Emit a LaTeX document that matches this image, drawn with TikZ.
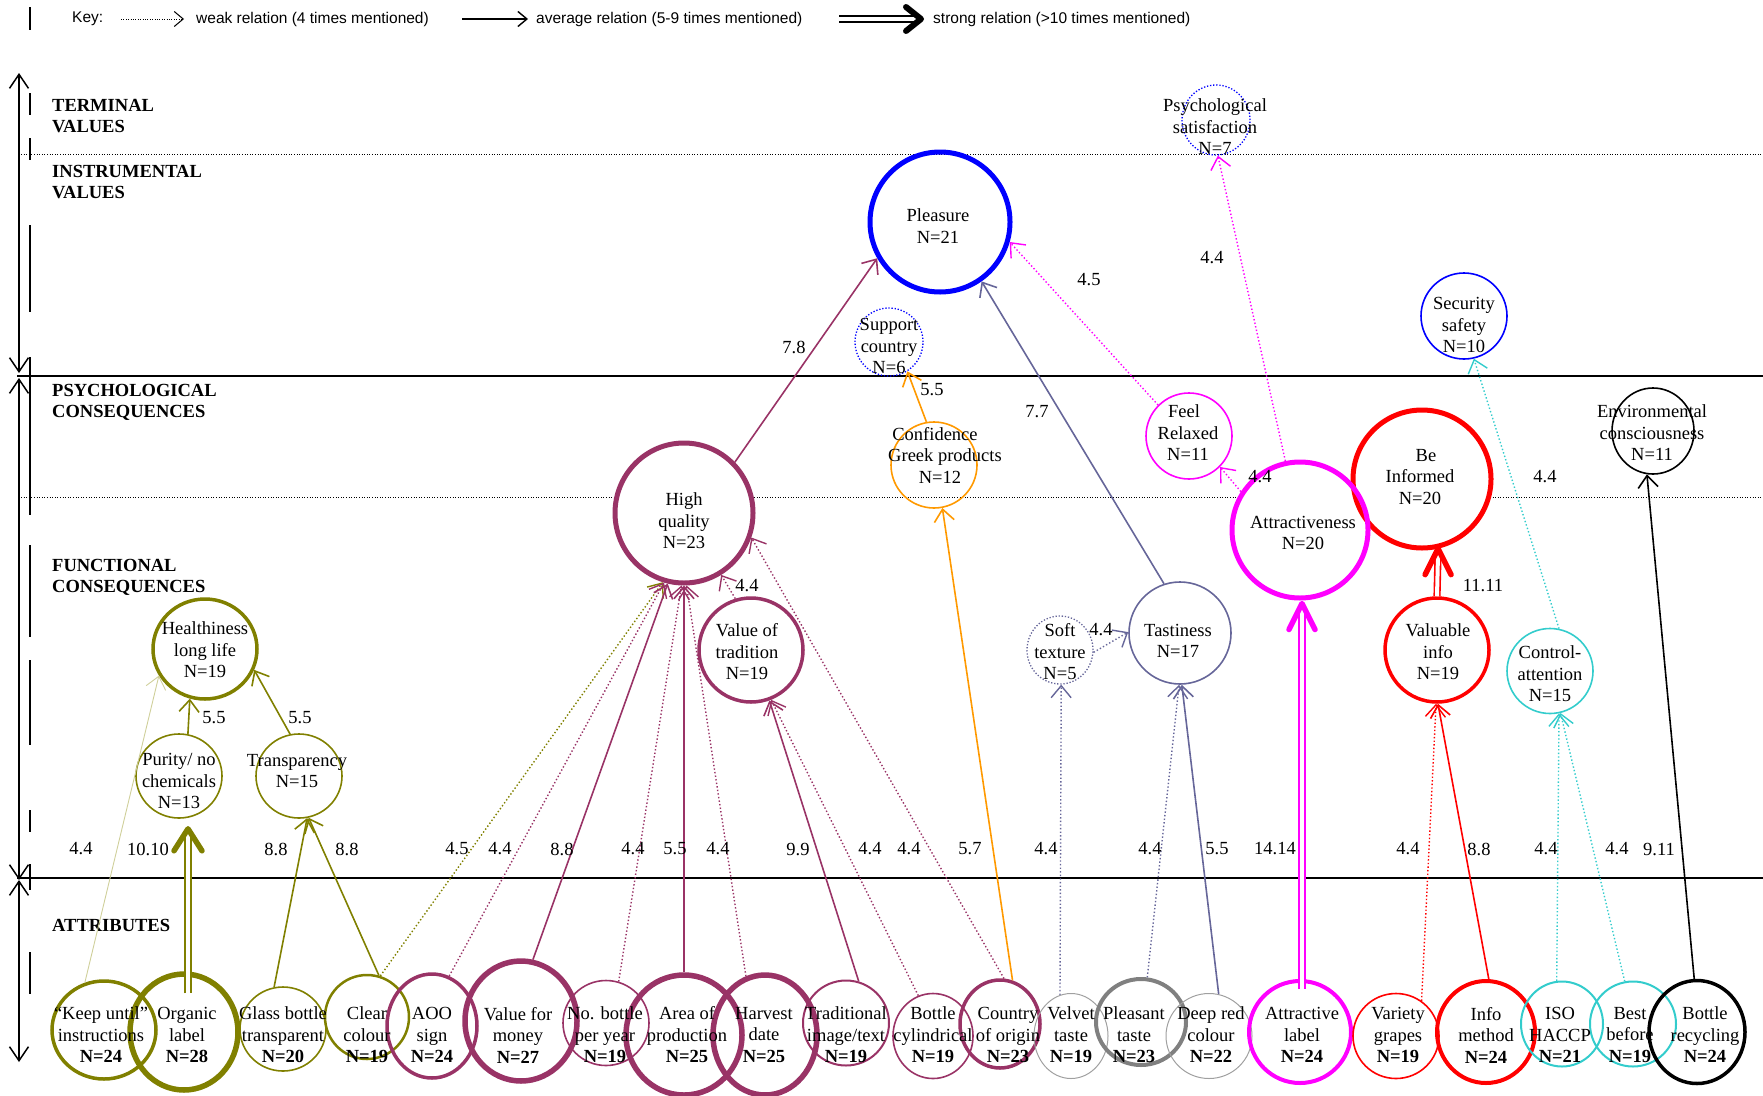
\documentclass[tikz,border=0pt]{standalone}
\usepackage{fontspec}
\setmainfont{Liberation Serif}
\newfontfamily\keyfont{Liberation Sans}
\usetikzlibrary{shapes.geometric,arrows.meta,calc}
\definecolor{olv}{HTML}{808000}
\definecolor{lolv}{HTML}{CFCF9A}
\definecolor{mar}{HTML}{993366}
\definecolor{mag}{HTML}{FF00FF}
\definecolor{blu}{HTML}{0000FF}
\definecolor{rd}{HTML}{FF0000}
\definecolor{orn}{HTML}{FF9900}
\definecolor{sla}{HTML}{666699}
\definecolor{cya}{HTML}{33CCCC}
\definecolor{gry}{HTML}{808080}
\definecolor{lgry}{HTML}{A0A0A0}
\begin{document}
\begin{tikzpicture}[x=1pt,y=-1pt,
  bub/.style 2 args={ellipse, inner sep=0pt, minimum width=#1pt, minimum height=#2pt},
  dotb/.style={dash pattern=on 1.3pt off 1.8pt},
  txt/.style={align=center, inner sep=0pt, font=\fontsize{18.5}{21.5}\selectfont},
  lbl/.style={inner sep=0pt, font=\fontsize{18.5}{21.5}\selectfont},
  hdr/.style={align=left, anchor=west, inner sep=0pt, font=\bfseries\fontsize{18.5}{21}\selectfont},
  keyt/.style={anchor=west, inner sep=0pt, font=\keyfont\fontsize{15.5}{18}\selectfont},
  avg/.style={draw=#1, line width=1.6pt, -{Straight Barb[length=12pt,width=20pt]}},
  wk/.style={draw=#1, line width=1.4pt, dash pattern=on 1.4pt off 2.2pt, -{Straight Barb[length=12pt,width=20pt]}},
  sdbl/.style={draw=#1, double=white, double distance=4pt, line width=1.6pt},
  chev/.style={draw=#1, line width=5.5pt, line cap=round, line join=round},
  axisl/.style={line width=1.5pt, {Straight Barb[length=14pt,width=19pt]}-{Straight Barb[length=14pt,width=19pt]}},
  sepdot/.style={line width=1pt, dash pattern=on 1pt off 1.6pt}
]
\useasboundingbox (0,0) rectangle (1763,1095);

% ---------- key ----------
\draw[line width=2pt] (30,7) -- (30,30);
\node[keyt] (key) at (72,19) {Key:};
\coordinate (kwa) at (121,19); \coordinate (kwb) at (184,19);
\draw[line width=1pt, dash pattern=on 1pt off 1.4pt, -{Straight Barb[length=9pt,width=15pt]}] (kwa) -- (kwb);
\node[keyt] (kwt) at (196,19) {weak relation (4 times mentioned)};
\coordinate (kaa) at (462,19); \coordinate (kab) at (528,19);
\draw[line width=1.4pt, -{Straight Barb[length=9pt,width=15pt]}] (kaa) -- (kab);
\node[keyt] (kat) at (536,19) {average relation (5-9 times mentioned)};
\coordinate (ksa) at (839,19); \coordinate (ksb) at (918,19); \coordinate (kstip) at (921,19);
\draw[sdbl=black] (ksa) -- (ksb);
\draw[chev=black, line width=6pt] ([shift={(-15pt,12pt)}]kstip) -- (kstip) -- ([shift={(-15pt,-12pt)}]kstip);
\node[keyt] (kst) at (933,19) {strong relation (>10 times mentioned)};

% ---------- axis ----------
\coordinate (ax0) at (19,73); \coordinate (ax1) at (19,373);
\coordinate (ax2) at (19,378); \coordinate (ax3) at (19,880);
\coordinate (ax4) at (19,1062);
\draw[axisl] (ax0) -- (ax1);
\draw[axisl] (ax2) -- (ax3);
\draw[axisl] (ax3) -- (ax4);
\foreach \ya/\yb in {93/115,138/160,225/312,357/515,545/637,660/745,810/832,864/890,952/994}
  \draw[line width=2pt] (30,\ya) -- (30,\yb);

% ---------- level lines ----------
\draw[sepdot] (21,154) -- (1763,154);
\draw[line width=1.8pt] (17,376) -- (1763,376);
\draw[sepdot] (21,497) -- (1763,497);
\draw[line width=1.5pt] (17,878) -- (1763,878);

% white interiors that hide the dotted level line
\fill[white] (684,513) ellipse (69 and 70);
\fill[white] (1300,530) ellipse (68 and 68);
\fill[white] (1422,479) ellipse (69 and 69);

\node[hdr] (h1) at (52,116) {TERMINAL\\VALUES};
\node[hdr] (h2) at (52,182) {INSTRUMENTAL\\VALUES};
\node[hdr] (h3) at (52,402) {PSYCHOLOGICAL\\CONSEQUENCES};
\node[hdr] (h4) at (52,577) {FUNCTIONAL\\CONSEQUENCES};
\node[hdr] (h5) at (52,925) {ATTRIBUTES};

% ---------- value / consequence bubbles ----------
\node[bub={68}{70}, draw=blu, line width=1.3pt, dotb] (psy) at (1216,120) {};
\node[bub={140}{140}, draw=blu, line width=5pt] (ple) at (940,222) {};
\node[bub={68}{68}, draw=blu, line width=1.3pt, dotb] (sup) at (889,342) {};
\node[bub={86}{86}, draw=blu, line width=1.6pt] (sec) at (1464,316) {};
\node[bub={86}{86}, draw=orn, line width=1.6pt] (con) at (934,465) {};
\node[bub={86}{86}, draw=mag, line width=1.6pt] (rel) at (1189,436) {};
\node[bub={138}{138}, draw=rd, line width=5pt] (inf) at (1422,479) {};
\node[bub={82}{86}, draw=black, line width=1.6pt] (env) at (1653,431) {};
\node[bub={138}{140}, draw=mar, line width=5pt] (hq) at (684,513) {};
\node[bub={136}{136}, draw=mag, line width=5pt] (att) at (1300,530) {};
\node[bub={104}{100}, draw=olv, line width=3.5pt] (hea) at (205,649) {};
\node[bub={86}{84}, draw=olv, line width=1.6pt] (pur) at (179,776) {};
\node[bub={86}{84}, draw=olv, line width=1.6pt] (tra) at (299,776) {};
\node[bub={104}{104}, draw=mar, line width=3.5pt] (vot) at (751,650) {};
\node[bub={66}{68}, draw=sla, line width=1.3pt, dotb] (sof) at (1060,650) {};
\node[bub={102}{102}, draw=sla, line width=1.6pt] (tas) at (1180,633) {};
\node[bub={104}{104}, draw=rd, line width=3.5pt] (val) at (1437,650) {};
\node[bub={86}{85}, draw=cya, line width=1.6pt] (ctl) at (1550,671) {};

% ---------- attribute bubbles ----------
\node[bub={104}{98}, draw=olv, line width=3.5pt] (keep) at (104,1030) {};
\node[bub={108}{116}, draw=olv, line width=5.5pt] (orgl) at (184,1032) {};
\node[bub={86}{84}, draw=olv, line width=1.6pt] (gla) at (283,1029) {};
\node[bub={84}{84}, draw=olv, line width=2.5pt] (cle) at (367,1017) {};
\node[bub={90}{104}, draw=mar, line width=3.5pt] (aoo) at (432,1026) {};
\node[bub={112}{120}, draw=mar, line width=5.5pt] (vfm) at (521,1021) {};
\node[bub={86}{85}, draw=mar, line width=1.6pt] (nob) at (606,1023) {};
\node[bub={116}{120}, draw=mar, line width=5.5pt] (are) at (684,1035) {};
\node[bub={104}{120}, draw=mar, line width=5.5pt] (har) at (765,1035) {};
\node[bub={86}{85}, draw=mar, line width=2pt] (trd) at (846,1023) {};
\node[bub={80}{85}, draw=mar, line width=1.6pt] (cyl) at (933,1036) {};
\node[bub={80}{88}, draw=mar, line width=3.5pt] (cou) at (1000,1024) {};
\node[bub={74}{85}, draw=lgry, line width=1pt] (vel) at (1071,1036) {};
\node[bub={90}{86}, draw=gry, line width=4pt] (pls) at (1141,1022) {};
\node[bub={86}{85}, draw=lgry, line width=1pt] (dee) at (1209,1036) {};
\node[bub={102}{102}, draw=mag, line width=4pt] (atl) at (1300,1032) {};
\node[bub={86}{85}, draw=rd, line width=1.6pt] (var) at (1396,1036) {};
\node[bub={98}{102}, draw=rd, line width=4pt] (inm) at (1486,1032) {};
\node[bub={82}{85}, draw=cya, line width=2pt] (iso) at (1562,1024) {};
\node[bub={86}{85}, draw=cya, line width=2pt] (bes) at (1633,1024) {};
\node[bub={96}{103}, draw=black, line width=3.5pt] (rec) at (1697,1032) {};

% ---------- texts ----------
\node[txt] (psy-t) at (1215,127) {Psychological\\satisfaction\\N=7};
\node[txt] (ple-t) at (938,226) {Pleasure\\N=21};
\node[txt] (sup-t) at (889,346) {Support\\country\\N=6};
\node[txt] (sec-t) at (1464,325) {Security\\safety\\N=10};
\node[txt] (con-t) at (940,455) {Confidence\kern10pt\\\kern10pt Greek products\\N=12};
\node[txt] (rel-t) at (1188,433) {Feel\kern8pt\\Relaxed\\N=11};
\node[txt] (inf-t) at (1420,477) {\kern12pt Be\\Informed\\N=20};
\node[txt] (env-t) at (1652,433) {Environmental\\consciousness\\N=11};
\node[txt] (hq-t) at (684,521) {High\\quality\\N=23};
\node[txt] (att-t) at (1303,533) {Attractiveness\\N=20};
\node[txt] (hea-t) at (205,650) {Healthiness\\long life\\N=19};
\node[txt] (pur-t) at (179,781) {Purity/ no\\chemicals\\N=13};
\node[txt] (tra-t) at (297,771) {Transparency\\N=15};
\node[txt] (vot-t) at (747,652) {Value of\\tradition\\N=19};
\node[txt] (sof-t) at (1060,652) {Soft\\texture\\N=5};
\node[txt] (tas-t) at (1178,641) {Tastiness\\N=17};
\node[txt] (val-t) at (1438,652) {Valuable\\info\\N=19};
\node[txt] (ctl-t) at (1550,674) {Control-\\attention\\N=15};

\node[txt] (keep-t) at (101,1035) {“Keep until”\\instructions\\\textbf{N=24}};
\node[txt] (orgl-t) at (187,1035) {Organic\\label\\\textbf{N=28}};
\node[txt] (gla-t) at (283,1035) {Glass bottle\\transparent\\\textbf{N=20}};
\node[txt] (cle-t) at (367,1035) {Clear\\colour\\\textbf{N=19}};
\node[txt] (aoo-t) at (432,1035) {AOO\\sign\\\textbf{N=24}};
\node[txt] (vfm-t) at (518,1035) {Value for\\money\\\textbf{N=27}};
\node[txt] (nob-t) at (605,1035) {No. bottle\\per year\\\textbf{N=19}};
\node[txt] (are-t) at (687,1035) {Area of\\production\\\textbf{N=25}};
\node[txt] (har-t) at (764,1035) {Harvest\\date\\\textbf{N=25}};
\node[txt] (trd-t) at (846,1035) {Traditional\\image/text\\\textbf{N=19}};
\node[txt] (cyl-t) at (933,1035) {Bottle\\cylindrical\\\textbf{N=19}};
\node[txt] (cou-t) at (1008,1035) {Country\\of origin\\\textbf{N=23}};
\node[txt] (vel-t) at (1071,1035) {Velvet\\taste\\\textbf{N=19}};
\node[txt] (pls-t) at (1134,1035) {Pleasant\\taste\\\textbf{N=23}};
\node[txt] (dee-t) at (1211,1035) {Deep red\\colour\\\textbf{N=22}};
\node[txt] (atl-t) at (1302,1035) {Attractive\\label\\\textbf{N=24}};
\node[txt] (var-t) at (1398,1035) {Variety\\grapes\\\textbf{N=19}};
\node[txt] (inm-t) at (1486,1035) {Info\\method\\\textbf{N=24}};
\node[txt] (iso-t) at (1560,1035) {ISO\\HACCP\\\textbf{N=21}};
\node[txt] (bes-t) at (1630,1035) {Best\\before\\\textbf{N=19}};
\node[txt] (rec-t) at (1705,1035) {Bottle\\recycling\\\textbf{N=24}};

% ---------- connectors ----------
\draw[avg=lolv, line width=0.9pt] (keep.112) -- (hea.-150);
\draw[sdbl=olv] ([xshift=4pt,yshift=-22pt]orgl.north) -- ([xshift=9pt,yshift=-12pt]pur.south);
\draw[chev=olv] ([xshift=-5pt,yshift=-32pt]pur.south) -- ([xshift=9pt,yshift=-10pt]pur.south) -- ([xshift=23pt,yshift=-32pt]pur.south);
\draw[avg=olv] (gla.102) -- (tra.-79);
\draw[avg=olv] (cle.74) -- (tra.-77);
\draw[avg=olv] (pur.78) -- (hea.-107);
\draw[avg=olv] (tra.102) -- (hea.-23);
\draw[wk=olv] (cle.72) -- (hq.-107);
\draw[wk=mar] (aoo.71) -- (hq.-106);
\draw[avg=mar] (vfm.79) -- (hq.-103);
\draw[wk=mar] (nob.73) -- (hq.-92);
\draw[avg=mar] (are.north) -- (hq.south);
\draw[wk=mar] (har.108) -- (hq.-88);
\draw[avg=mar] (trd.73) -- (vot.-70);
\draw[wk=mar] (cyl.110) -- (vot.-68);
\draw[wk=mar] (cou.85) -- (hq.-20);
\draw[avg=orn] (cou.74) -- (con.-79);
\draw[wk=mar] (vot.107) -- (hq.-59);
\draw[avg=mar] (hq.45) -- (ple.-150);
\draw[avg=orn] (con.100) -- (sup.-58);
\draw[avg=sla] (tas.108) -- (ple.-55);
\draw[wk=mag] (rel.135) -- (ple.-16);
\draw[wk=mag] (att.147) -- (rel.-45);
\draw[wk=mag] (att.102) -- (psy.-87);
\draw[wk=sla] (vel.105) -- (sof.-88);
\draw[wk=sla] (sof.-4) -- (tas.179);
\draw[wk=sla] (pls.82) -- (tas.-91);
\draw[avg=sla] (dee.77) -- (tas.-88);
\draw[sdbl=mag] ([xshift=2pt,yshift=-10pt]atl.north) -- ([xshift=2pt,yshift=-5pt]att.south);
\draw[chev=mag] ([xshift=-11pt,yshift=-29pt]att.south) -- ([xshift=2pt,yshift=-3pt]att.south) -- ([xshift=15pt,yshift=-29pt]att.south);
\draw[sdbl=rd] (val.north) -- ([yshift=-2pt]inf.-77);
\draw[chev=rd] ([xshift=-13pt,yshift=-26pt]inf.-77) -- (inf.-77) -- ([xshift=13pt,yshift=-26pt]inf.-77);
\draw[wk=rd] (var.54) -- (val.-91);
\draw[avg=rd] (inm.87) -- (val.-89);
\draw[wk=cya] (iso.97) -- (ctl.-78);
\draw[wk=cya] (bes.101) -- (ctl.-76);
\draw[wk=cya] (ctl.78) -- (sec.-77);
\draw[avg=black] (rec.93) -- (env.-98);

% ---------- connector labels ----------
\node[lbl] (l1) at (1212,258) {4.4};
\node[lbl] (l2) at (1089,280) {4.5};
\node[lbl] (l3) at (794,347) {7.8};
\node[lbl] (l4) at (932,390) {5.5};
\node[lbl] (l5) at (1037,412) {7.7};
\node[lbl] (l6) at (1260,477) {4.4};
\node[lbl] (l7) at (1545,477) {4.4};
\node[lbl] (l8) at (747,586) {4.4};
\node[lbl] (l9) at (1483,586) {11.11};
\node[lbl] (l10) at (1101,630) {4.4};
\node[lbl] (l11) at (214,718) {5.5};
\node[lbl] (l12) at (300,718) {5.5};
\foreach \px/\t in {81/4.4,148/10.10,276/8.8,347/8.8,457/4.5,500/4.4,562/8.8,633/4.4,675/5.5,718/4.4,798/9.9,870/4.4,909/4.4,970/5.7,1046/4.4,1150/4.4,1217/5.5,1275/14.14,1408/4.4,1479/8.8,1546/4.4,1617/4.4,1659/9.11}
  \node[lbl] (num\px) at (\px,849) {\t};
\end{tikzpicture}
\end{document}
